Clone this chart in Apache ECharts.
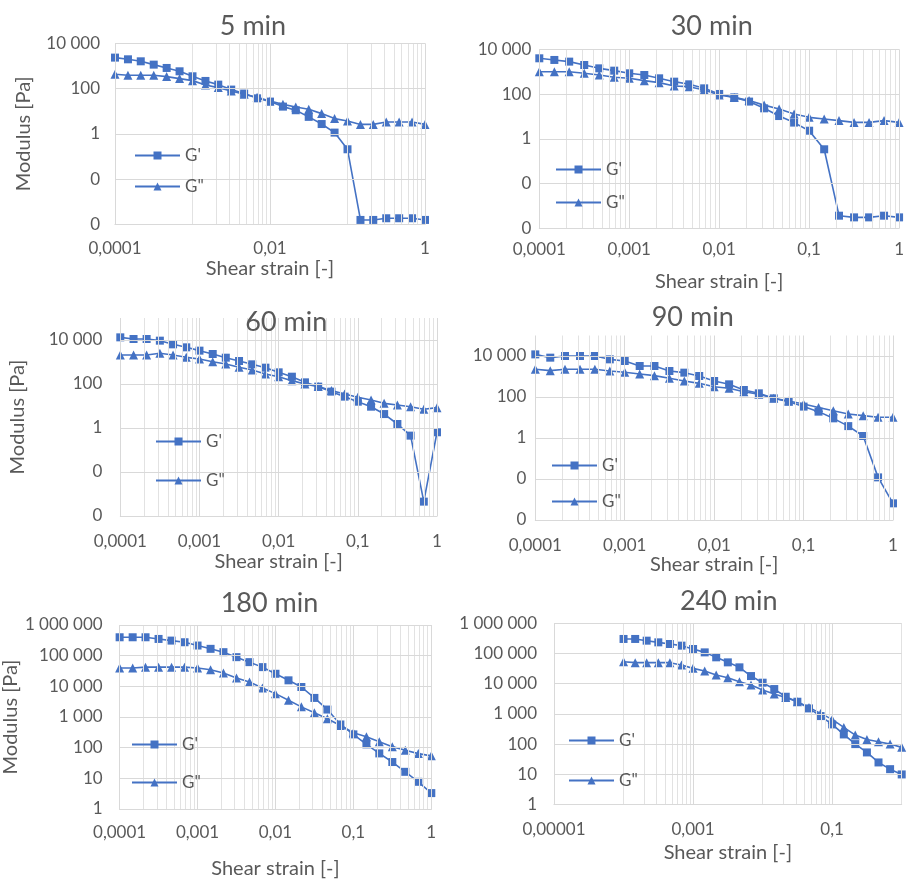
<!DOCTYPE html>
<html>
<head>
<meta charset="utf-8">
<script src="https://cdn.jsdelivr.net/npm/echarts@6/dist/echarts.min.js"></script>
<style>
  html, body { margin: 0; padding: 0; background: #ffffff; }
  #chart { width: 907px; height: 880px; }
</style>
</head>
<body>
<div id="chart"></div>
<script>
// Amplitude sweeps: storage (G') and loss (G") modulus against shear strain
const strain = [0.0001, 0.000147, 0.000215, 0.000316, 0.000464, 0.000681,
  0.001, 0.00147, 0.00215, 0.00316, 0.00464, 0.00681,
  0.01, 0.0147, 0.0215, 0.0316, 0.0464, 0.0681,
  0.1, 0.147, 0.215, 0.316, 0.464, 0.681, 1];

const gStorage5 = [2330, 1960, 1600, 1140, 813, 579, 348, 217, 149, 90, 60, 37, 26.5, 15.9, 11, 5.6, 2.7, 1.13, 0.207,
  0.000156, 0.000156, 0.000185, 0.000185, 0.000185, 0.000156];
const gLoss5 = [427, 385, 385, 385, 337, 275, 224, 144, 110, 78, 56, 41, 28, 20, 15.4, 12.1, 7.8, 4.7, 3.7, 2.6,
  2.6, 3.3, 3.3, 3.3, 2.6];

const gStorage30 = [3960, 3340, 2810, 1990, 1410, 1110, 845, 711, 505, 358, 272, 180, 101, 71, 46, 23, 10.4, 5.3, 2.3, 0.34,
  0.000366, 0.000308, 0.000308, 0.000366, 0.000308];
const gLoss30 = [1000, 1000, 1000, 845, 711, 560, 505, 397, 324, 230, 214, 152, 91, 71, 51, 32, 21.5, 12.8, 9.1, 7.7,
  6.5, 5.4, 5.4, 6.5, 5.4];

const gStorage60 = [13200, 11100, 11100, 9330, 6350, 4640, 3280, 2310, 1570, 1110, 783, 552, 339, 215, 119, 76, 45, 26.6,
  15.7, 9.3, 4.3, 1.52, 0.45, 0.00045, 0.64];
const gLoss60 = [2080, 2080, 2080, 2480, 2080, 1630, 1370, 1035, 811, 572, 433, 285, 215, 142, 100, 76, 50, 35, 24.8,
  18.7, 13.2, 11.1, 9.3, 7.1, 8.4];

const gStorage90 = [12000, 8290, 10000, 10000, 10000, 6870, 5700, 3250, 3250, 1850, 1540, 1060, 603, 415, 219, 151, 86, 59,
  34, 19.3, 9.1, 3.8, 1.25, 0.012, 0.00065];
const gLoss90 = [2240, 1930, 2240, 2240, 2240, 1850, 1600, 1320, 1100, 815, 603, 464, 319, 265, 182, 135, 86, 64, 46, 31,
  21.5, 14.8, 12.3, 10.2, 10.2];

const gStorage180 = [398000, 398000, 398000, 351000, 310000, 274000, 214000, 167000, 130000, 89400, 61500, 42300, 25700,
  15700, 9510, 4190, 1750, 571, 271, 128, 65, 34, 16.3, 7.7, 3.3];
const gLoss180 = [39400, 39400, 42300, 42300, 42300, 42300, 39400, 34700, 27100, 18600, 13800, 8840, 5780, 3520, 2140,
  1370, 873, 530, 306, 227, 157, 108, 82, 64, 54];

const gStorage240 = [303000, 303000, 266000, 234000, 206000, 182000, 141000, 109000, 74700, 50900, 34800, 17900, 10800,
  6650, 3700, 2530, 1520, 847, 449, 209, 100, 53, 24.7, 14.8, 9.9];
const gLoss240 = [53600, 49700, 49700, 49700, 49700, 41600, 32200, 26300, 19400, 15800, 11600, 9030, 6170, 4540, 3520,
  2530, 1640, 1040, 658, 357, 199, 143, 119, 100, 78];

// Tick label values
const yTicksPa100 = [0.0001, 0.01, 1, 100, 10000];
const yTicksPa10 = [1, 10, 100, 1000, 10000, 100000, 1000000];
const xTicksStep100 = [0.0001, 0.01, 1];
const xTicksStep10 = [0.0001, 0.001, 0.01, 0.1, 1];
const xTicksWide = [0.00001, 0.001, 0.1];

const panelTitles = ['5 min', '30 min', '60 min', '90 min', '180 min', '240 min'];

const BLUE = '#4472C4';
const TEXT = '#595959';
const MAJOR = '#d9d9d9';
const MINOR = '#e2e2e2';
const FONT = 'Lato, "Open Sans", sans-serif';

// minor vertical gridlines: k * 10^n for each listed decade start
function decadeLines(starts, ks) {
  const out = [];
  starts.forEach(s => ks.forEach(k => out.push(+(s * k).toPrecision(6))));
  return out;
}
const K2_9 = [2, 3, 4, 5, 6, 7, 8, 9];
const K1_9 = [1, 2, 3, 4, 5, 6, 7, 8, 9];

function fmtStrain(v) {
  const e = Math.round(Math.log10(v));
  if (e >= 0) return '1' + '0'.repeat(e);
  return '0,' + '0'.repeat(-e - 1) + '1';
}
function fmtModulus(v) {
  const e = Math.round(Math.log10(v));
  if (e < 0) return '0';
  const s = '1' + '0'.repeat(e);
  return s.replace(/\B(?=(\d{3})+(?!\d))/g, ' ');
}

const panels = [
  { gp: gStorage5, gpp: gLoss5, grid: { left: 115, top: 43.3, width: 310, height: 181 },
    xMin: 0.0001, xMax: 1, xTicks: xTicksStep100, xMinor: decadeLines([0.001, 0.1], K1_9),
    yMin: 0.0001, yMax: 10000, yTicks: yTicksPa100,
    title: { x: 253, y: 13 }, xLabelMargin: 16, xNameGap: 33, yLabelMargin: 15, yNameGap: 81,
    legend: { left: 134, top: 147, gap: 14 } },
  { gp: gStorage30, gpp: gLoss30, grid: { left: 539.3, top: 49.3, width: 362.7, height: 179 },
    xMin: 0.0001, xMax: 1, xTicks: xTicksStep10, xMinor: decadeLines([0.0001, 0.001, 0.01, 0.1], K2_9),
    yMin: 0.0001, yMax: 10000, yTicks: yTicksPa100,
    title: { x: 711.7, y: 12.5 }, xLabelMargin: 13, xNameGap: 43, yLabelMargin: 8, yNameGap: null,
    legend: { left: 555, top: 161, gap: 16 } },
  { gp: gStorage60, gpp: gLoss60, grid: { left: 120.3, top: 318, width: 316.7, height: 198 },
    xMin: 0.0001, xMax: 1, xTicks: xTicksStep10, xMinor: decadeLines([0.0001, 0.001, 0.01, 0.1], K2_9),
    yMin: 0.0001, yMax: 100000, yTicks: yTicksPa100,
    title: { x: 286.3, y: 309 }, xLabelMargin: 17, xNameGap: 36, yLabelMargin: 18, yNameGap: 93,
    legend: { left: 155, top: 433, gap: 22 } },
  { gp: gStorage90, gpp: gLoss90, grid: { left: 535.3, top: 335.5, width: 357.7, height: 184.5 },
    xMin: 0.0001, xMax: 1, xTicks: xTicksStep10, xMinor: decadeLines([0.0001, 0.001, 0.01, 0.1], K2_9),
    yMin: 0.0001, yMax: 100000, yTicks: yTicksPa100,
    title: { x: 692.7, y: 303.5 }, xLabelMargin: 17, xNameGap: 35, yLabelMargin: 9, yNameGap: null,
    legend: { left: 551, top: 457, gap: 19 } },
  { gp: gStorage180, gpp: gLoss180, grid: { left: 114.7, top: 625, width: 316.6, height: 185 },
    xMin: 0.0001, xMax: 1, xTicks: xTicksStep10, xMinor: decadeLines([0.0001, 0.001, 0.01, 0.1], K2_9),
    yMin: 1, yMax: 1000000, yTicks: yTicksPa10,
    title: { x: 269.5, y: 590 }, xLabelMargin: 15, xNameGap: 50, yLabelMargin: 17, yNameGap: 87,
    legend: { left: 131, top: 736, gap: 21 } },
  { gp: gStorage240, gpp: gLoss240, grid: { left: 554, top: 623.3, width: 347.7, height: 181.2 },
    xMin: 0.00001, xMax: 1, xTicks: xTicksWide, xMinor: decadeLines([0.0001, 0.01], K1_9).concat([1]),
    yMin: 1, yMax: 1000000, yTicks: yTicksPa10,
    title: { x: 728.8, y: 588 }, xLabelMargin: 17, xNameGap: 38, yLabelMargin: 17, yNameGap: null,
    legend: { left: 568, top: 732, gap: 23 } }
];

const option = {
  animation: false,
  backgroundColor: '#ffffff',
  textStyle: { fontFamily: FONT },
  title: [], legend: [], grid: [], xAxis: [], yAxis: [], series: []
};

panels.forEach((p, i) => {
  option.title.push({
    text: panelTitles[i], left: p.title.x, top: p.title.y, textAlign: 'center', padding: 0,
    textStyle: { color: TEXT, fontSize: 27, fontWeight: 'normal', fontFamily: FONT }
  });
  option.legend.push({
    data: ["G'", 'G"'], orient: 'vertical', left: p.legend.left, top: p.legend.top,
    itemWidth: 45, itemHeight: 10, itemGap: p.legend.gap, padding: 0, selectedMode: false, z: 10,
    textStyle: { color: TEXT, fontSize: 17, fontFamily: FONT }
  });
  option.grid.push(Object.assign({ containLabel: false }, p.grid));
  option.xAxis.push({
    type: 'log', logBase: 10, gridIndex: i, min: p.xMin, max: p.xMax,
    splitLine: { show: false }, axisTick: { show: false },
    axisLine: { show: true, onZero: false, lineStyle: { color: '#d0d0d0', width: 1 } },
    axisLabel: { customValues: p.xTicks, formatter: fmtStrain, color: TEXT, fontSize: 17,
      margin: p.xLabelMargin, fontFamily: FONT },
    name: 'Shear strain [-]', nameLocation: 'middle', nameGap: p.xNameGap,
    nameTextStyle: { color: TEXT, fontSize: 20, fontFamily: FONT }
  });
  const y = {
    type: 'log', logBase: 10, gridIndex: i, min: p.yMin, max: p.yMax,
    splitLine: { show: false }, axisTick: { show: false },
    axisLine: { show: false, onZero: false },
    axisLabel: { customValues: p.yTicks, formatter: fmtModulus, color: TEXT, fontSize: 17,
      margin: p.yLabelMargin, fontFamily: FONT }
  };
  if (p.yNameGap !== null) {
    Object.assign(y, {
      name: 'Modulus [Pa]', nameLocation: 'middle', nameGap: p.yNameGap, nameRotate: 90,
      nameTextStyle: { color: TEXT, fontSize: 20, fontFamily: FONT }
    });
  }
  option.yAxis.push(y);

  // gridlines, drawn beneath the data
  const lines = [];
  p.xTicks.forEach(v => lines.push({ xAxis: v, lineStyle: { color: MAJOR } }));
  p.xMinor.forEach(v => lines.push({ xAxis: v, lineStyle: { color: MINOR } }));
  p.yTicks.forEach(v => lines.push({ yAxis: v, lineStyle: { color: MAJOR } }));
  option.series.push({
    type: 'line', xAxisIndex: i, yAxisIndex: i, data: [], silent: true, z: 1,
    markLine: { silent: true, precision: 20, symbol: ['none', 'none'], label: { show: false }, animation: false,
      lineStyle: { type: 'solid', width: 1 }, emphasis: { disabled: true }, data: lines }
  });

  [[p.gp, "G'", 'rect'], [p.gpp, 'G"', 'triangle']].forEach(([vals, name, sym]) => {
    option.series.push({
      type: 'line', name: name, xAxisIndex: i, yAxisIndex: i, z: 3, clip: false,
      data: strain.map((x, j) => [x, vals[j]]),
      symbol: sym, symbolSize: sym === 'rect' ? 8 : 9, showAllSymbol: true,
      itemStyle: { color: BLUE }, lineStyle: { color: BLUE, width: 1.6 },
      emphasis: { disabled: true }
    });
  });
});

const chart = echarts.init(document.getElementById('chart'), null, { renderer: 'canvas' });
chart.setOption(option);
</script>
</body>
</html>
